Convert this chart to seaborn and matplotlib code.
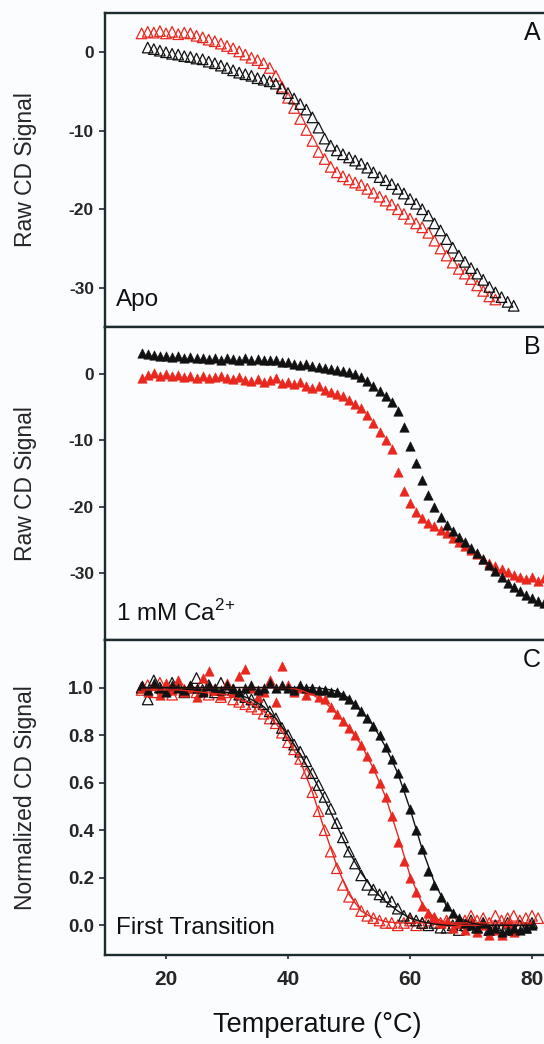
"""
CD thermal melts: raw signal (apo, 1 mM Ca2+) and normalised first transition.
"""
import numpy as np
import matplotlib
matplotlib.use("Agg")
import matplotlib.pyplot as plt
import seaborn as sns

RED, BLACK, INK, BG = "#e8281f", "#111111", "#1c2b2e", "#fbfcfe"

# ── Panel A: apo, raw CD signal (open triangles) ─────────────────────────────
temp_a_black = np.arange(17, 78)
apo_black = [0.6, 0.4, 0.2, 0.0, -0.2, -0.3, -0.5, -0.6, -0.8, -0.9,
             -1.2, -1.4, -1.7, -2.0, -2.3, -2.6, -2.8, -3.0, -3.3, -3.5,
             -3.7, -4.0, -4.6, -5.2, -5.9, -6.6, -7.3, -8.3, -9.6, -11.0,
             -11.9, -12.5, -13.0, -13.4, -13.8, -14.2, -14.7, -15.3, -15.9, -16.3,
             -16.8, -17.4, -18.0, -18.7, -19.3, -20.0, -20.8, -21.8, -22.7, -23.8,
             -24.9, -25.9, -26.7, -27.5, -28.2, -29.0, -29.9, -30.6, -31.2, -31.8,
             -32.3]
temp_a_red = np.arange(16, 75)
apo_red = [2.4, 2.6, 2.5, 2.7, 2.4, 2.6, 2.3, 2.5, 2.4, 2.1,
           1.9, 1.6, 1.4, 1.1, 0.8, 0.5, 0.1, -0.3, -0.7, -1.0,
           -1.4, -2.0, -3.0, -4.4, -5.8, -7.1, -8.5, -9.9, -11.3, -12.7,
           -13.6, -14.6, -15.3, -15.8, -16.2, -16.6, -16.9, -17.4, -17.9, -18.4,
           -18.9, -19.4, -20.0, -20.6, -21.2, -21.8, -22.3, -23.0, -24.0, -25.0,
           -25.9, -26.8, -27.6, -28.2, -28.9, -29.7, -30.4, -31.1, -31.5]

# ── Panel B: 1 mM Ca2+, raw CD signal (filled triangles) ─────────────────────
temp_b = np.arange(16, 85)
ca_black = [3.1, 3.0, 2.8, 2.6, 2.7, 2.5, 2.6, 2.4, 2.5, 2.3,
            2.4, 2.2, 2.4, 2.1, 2.3, 2.2, 2.0, 2.3, 2.1, 2.2,
            2.0, 2.1, 2.0, 1.8, 1.7, 1.5, 1.3, 1.4, 1.1, 1.0,
            0.9, 0.7, 0.5, 0.4, 0.2, -0.1, -0.5, -1.1, -1.8, -2.6,
            -3.4, -4.3, -5.6, -8.0, -10.9, -13.4, -16.0, -18.3, -20.1, -21.5,
            -22.8, -23.7, -24.5, -25.3, -26.2, -27.0, -27.9, -28.8, -29.7, -30.6,
            -31.4, -32.1, -32.7, -33.2, -33.7, -34.1, -34.5, -34.9, -35.2]
ca_red = [-0.6, -0.2, 0.1, -0.3, -0.1, -0.4, -0.2, -0.5, -0.3, -0.6,
          -0.4, -0.7, -0.5, -0.3, -0.6, -0.8, -0.5, -0.9, -1.1, -0.8,
          -1.3, -1.0, -0.6, -1.4, -1.2, -1.5, -1.3, -1.8, -2.2, -1.9,
          -2.4, -2.7, -3.0, -3.4, -3.9, -4.5, -5.2, -6.2, -7.4, -8.7,
          -10.0, -11.3, -14.8, -17.6, -19.5, -20.8, -21.7, -22.4, -22.9, -23.5,
          -24.0, -24.7, -25.3, -25.9, -26.5, -27.1, -27.8, -28.4, -28.9, -29.3,
          -29.8, -30.2, -30.5, -30.9, -30.6, -31.2, -30.7, -30.9, -31.1]

# ── Panel C: normalised first transition ─────────────────────────────────────
temp_c_apo_black = np.arange(16, 81)
norm_apo_black = [1.00, 0.95, 1.03, 1.00, 0.99, 1.02, 1.01, 0.98, 1.00, 1.04,
                  0.99, 1.01, 0.98, 1.02, 1.00, 0.99, 0.97, 0.96, 0.95, 0.94,
                  0.93, 0.90, 0.87, 0.83, 0.80, 0.76, 0.73, 0.69, 0.64, 0.59,
                  0.54, 0.49, 0.43, 0.37, 0.31, 0.26, 0.21, 0.17, 0.15, 0.13,
                  0.12, 0.10, 0.07, 0.04, 0.03, 0.02, 0.01, 0.00, 0.01, -0.01,
                  -0.01, 0.00, -0.02, 0.00, 0.02, -0.01, 0.01, -0.02, 0.00, -0.01,
                  0.01, -0.02, 0.00, -0.01, 0.01]
temp_c_apo_red = np.arange(16, 82)
norm_apo_red = [0.99, 1.01, 0.98, 1.02, 1.00, 0.97, 1.01, 0.99, 1.00, 0.98,
                1.02, 0.97, 0.99, 0.96, 0.98, 0.95, 0.94, 0.93, 0.92, 0.91,
                0.89, 0.87, 0.85, 0.81, 0.77, 0.74, 0.70, 0.64, 0.56, 0.48,
                0.40, 0.31, 0.24, 0.17, 0.12, 0.09, 0.06, 0.04, 0.03, 0.02,
                0.01, 0.01, 0.00, 0.01, 0.02, 0.00, 0.01, 0.02, 0.03, 0.01,
                0.02, 0.03, 0.01, 0.02, 0.04, 0.02, 0.03, 0.01, 0.04, 0.02,
                0.03, 0.04, 0.02, 0.03, 0.04, 0.03]
temp_c_ca_black = np.arange(16, 81)
norm_ca_black = [1.01, 0.99, 1.02, 1.00, 0.98, 1.01, 1.00, 0.99, 1.01, 1.00,
                 0.98, 1.01, 1.00, 0.99, 1.01, 1.00, 0.98, 1.00, 1.01, 0.99,
                 1.00, 1.02, 1.00, 1.01, 1.00, 0.99, 1.01, 1.00, 1.00, 0.99,
                 0.99, 0.98, 0.98, 0.97, 0.95, 0.93, 0.90, 0.87, 0.84, 0.80,
                 0.75, 0.70, 0.64, 0.58, 0.49, 0.40, 0.32, 0.23, 0.17, 0.12,
                 0.08, 0.05, 0.03, 0.01, 0.00, -0.01, 0.01, -0.02, -0.01, -0.03,
                 -0.02, -0.01, -0.02, -0.01, 0.00]
temp_c_ca_red = np.arange(16, 78)
norm_ca_red = [1.00, 0.98, 1.01, 0.97, 1.02, 0.99, 1.03, 0.98, 1.00, 0.96,
               1.04, 1.07, 0.99, 0.97, 1.02, 0.98, 1.05, 1.08, 1.00, 0.96,
               0.98, 1.03, 0.94, 1.09, 1.01, 0.98, 1.00, 0.97, 0.99, 0.96,
               0.95, 0.92, 0.89, 0.86, 0.83, 0.80, 0.76, 0.71, 0.66, 0.60,
               0.54, 0.46, 0.35, 0.27, 0.20, 0.14, 0.08, 0.05, 0.03, 0.01,
               0.02, -0.01, 0.01, -0.02, 0.02, -0.03, 0.00, -0.04, -0.02, -0.04,
               0.01, -0.03]

# fitted two-state curves as drawn in panel C (2 °C steps)
temp_fit = np.arange(16, 82, 2)
fit_apo_black = [1.0, 1.0, 1.0, 1.0, 0.995, 0.99, 0.985, 0.98, 0.97, 0.95,
                 0.92, 0.87, 0.80, 0.72, 0.63, 0.53, 0.42, 0.31, 0.22, 0.15,
                 0.10, 0.06, 0.03, 0.015, 0.005, 0.0, 0.0, 0.0, 0.0, 0.0,
                 0.0, 0.0, 0.0]
fit_apo_red = [0.99, 0.99, 0.99, 0.99, 0.985, 0.98, 0.975, 0.97, 0.95, 0.93,
               0.90, 0.85, 0.78, 0.69, 0.56, 0.40, 0.25, 0.13, 0.06, 0.03,
               0.015, 0.01, 0.01, 0.01, 0.01, 0.01, 0.01, 0.01, 0.01, 0.01,
               0.01, 0.01, 0.01]
fit_ca_black = [1.0, 1.0, 1.0, 1.0, 1.0, 1.0, 1.0, 1.0, 1.0, 1.0,
                1.0, 1.0, 1.0, 1.0, 1.0, 0.995, 0.985, 0.955, 0.90, 0.84,
                0.75, 0.64, 0.49, 0.32, 0.18, 0.08, 0.03, 0.01, 0.0, 0.0,
                0.0, 0.0, 0.0]
fit_ca_red = [1.0, 1.0, 1.0, 1.0, 1.0, 1.0, 1.0, 1.0, 1.0, 1.0,
              1.0, 1.0, 1.0, 0.99, 0.97, 0.94, 0.89, 0.83, 0.76, 0.66,
              0.54, 0.38, 0.21, 0.09, 0.03, 0.01, 0.0, 0.0, 0.0, 0.0,
              0.0, 0.0, 0.0]

sns.set_style("ticks")
plt.rcParams["font.family"] = ["Liberation Sans", "DejaVu Sans"]
plt.rcParams["mathtext.fontset"] = "custom"
plt.rcParams["mathtext.rm"] = "Liberation Sans"

fig = plt.figure(figsize=(5.44, 10.44), dpi=100, facecolor=BG)
left, width = 105 / 544, 488 / 544
ax_a = fig.add_axes([left, 1 - 327 / 1044, width, 314 / 1044])
ax_b = fig.add_axes([left, 1 - 640 / 1044, width, 313 / 1044])
ax_c = fig.add_axes([left, 1 - 955 / 1044, width, 315 / 1044])


def open_tri(ax, x, y, color):
    sns.scatterplot(x=x, y=y, marker="^", s=58, color=color, facecolors="none",
                    edgecolor=color, linewidth=0.9, ax=ax)


def filled_tri(ax, x, y, color):
    sns.scatterplot(x=x, y=y, marker="^", s=46, color=color, edgecolor=color,
                    linewidth=0.4, ax=ax)


open_tri(ax_a, temp_a_red, apo_red, RED)
open_tri(ax_a, temp_a_black, apo_black, BLACK)

filled_tri(ax_b, temp_b, ca_red, RED)
filled_tri(ax_b, temp_b, ca_black, BLACK)

for ys, col in [(fit_apo_red, RED), (fit_apo_black, BLACK),
                (fit_ca_red, RED), (fit_ca_black, BLACK)]:
    sns.lineplot(x=temp_fit, y=ys, color=col, linewidth=1.0, ax=ax_c)
open_tri(ax_c, temp_c_apo_red, norm_apo_red, RED)
open_tri(ax_c, temp_c_apo_black, norm_apo_black, BLACK)
filled_tri(ax_c, temp_c_ca_red, norm_ca_red, RED)
filled_tri(ax_c, temp_c_ca_black, norm_ca_black, BLACK)

panels = [(ax_a, (-35, 5), [0, -10, -20, -30], ["0", "-10", "-20", "-30"], 12.5,
           "Raw CD Signal", "Apo", "A"),
          (ax_b, (-40, 7), [0, -10, -20, -30], ["0", "-10", "-20", "-30"], 12.5,
           "Raw CD Signal", "1 mM Ca$^{2{+}}$", "B"),
          (ax_c, (-0.125, 1.2), [0, 0.2, 0.4, 0.6, 0.8, 1.0],
           ["0.0", "0.2", "0.4", "0.6", "0.8", "1.0"], 13.5,
           "Normalized CD Signal", "First Transition", "C")]

for ax, ylim, yt, ytl, tsize, ylab, note, letter in panels:
    ax.set_facecolor(BG)
    ax.set_xlim(10, 90)
    ax.set_ylim(*ylim)
    ax.set_yticks(yt)
    ax.set_yticklabels(ytl, fontsize=tsize, fontweight="bold")
    ax.tick_params(axis="y", direction="out", length=4, width=1.2, pad=4, color=INK)
    for sp in ax.spines.values():
        sp.set_linewidth(1.7)
        sp.set_color(INK)
    ax.set_ylabel(ylab, fontsize=16.5)
    ax.yaxis.set_label_coords(-0.14, 0.5)
    ax.set_xlabel("")
    ax.text(0.022, 0.085, note, transform=ax.transAxes, fontsize=17.5,
            va="center", ha="left", color="#111111")
    ax.text(0.875, 0.935, letter, transform=ax.transAxes, fontsize=18,
            va="center", ha="center", color="#111111")
    if ax is not ax_c:
        ax.tick_params(axis="x", bottom=False, labelbottom=False)

ax_c.set_xticks([20, 40, 60, 80])
ax_c.set_xticklabels(["20", "40", "60", "80"], fontsize=15, fontweight="bold")
ax_c.tick_params(axis="x", direction="out", length=3, width=1.2, pad=8, color=INK)

fig.text(317 / 544, 1 - 1025 / 1044, "Temperature (°C)", fontsize=19.5,
         ha="center", va="center", color="#111111")

plt.savefig("out.png", dpi=100, facecolor=BG)
plt.close()
